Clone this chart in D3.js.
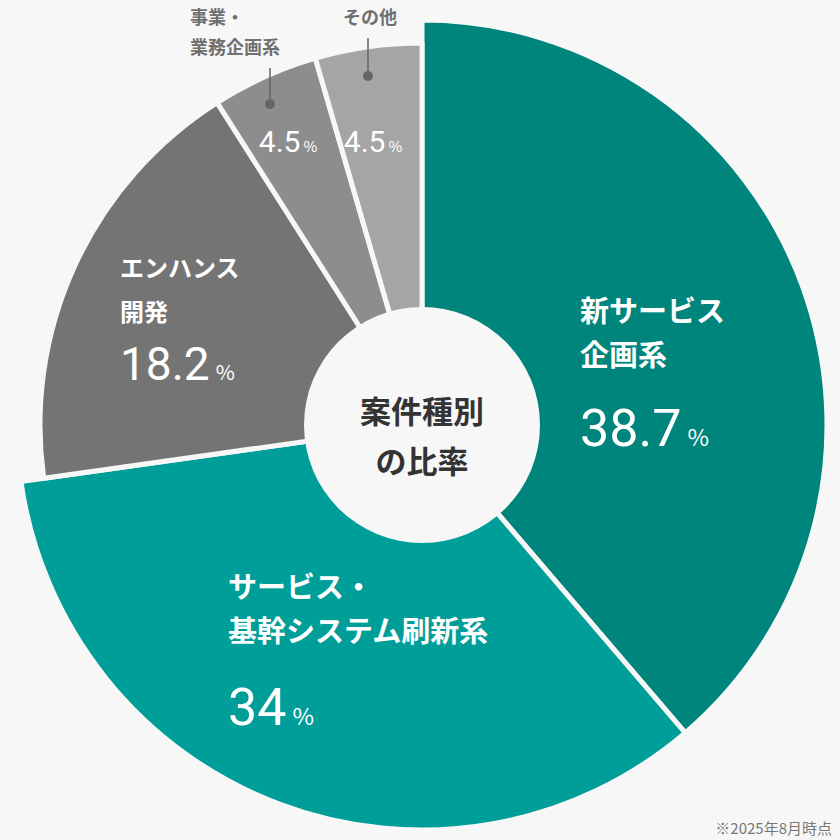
<!DOCTYPE html><html><head><meta charset="utf-8"><script src="https://cdn.jsdelivr.net/npm/d3@7"></script>
<style>body{margin:0;background:#f7f7f7}text{font-family:"Noto Sans CJK JP",sans-serif}</style></head><body><svg id="c" width="840" height="840"></svg><script>
const categories=["新サービス企画系","サービス・基幹システム刷新系","エンハンス開発","事業・業務企画系","その他"];
const values=[38.7,34,18.2,4.5,4.5];
const valueLabels=["38.7","34","18.2","4.5","4.5"];
const colors=["#00857d","#009e98","#747474","#8d8d8d","#a5a5a5"];
const radii=[405,405,382,382,382];
const svg=d3.select("#c");
svg.append("rect").attr("width",840).attr("height",840).attr("fill","#f7f7f7");
const cx=422,cy=425;
const g=svg.append("g").attr("transform",`translate(${cx},${cy})`);
const arcs=d3.pie().sort(null)(values);
g.selectAll("path").data(arcs).join("path")
 .attr("d",(d,i)=>d3.arc().innerRadius(0).outerRadius(radii[i])(d))
 .attr("fill",(d,i)=>colors[i]).attr("stroke","#f7f7f7").attr("stroke-width",5).attr("stroke-linejoin","round");
g.append("circle").attr("r",118).attr("fill","#f7f7f7");
g.append("text").attr("text-anchor","middle").attr("font-size",31).attr("font-weight",700).attr("fill","#333")
 .selectAll("tspan").data(["案件種別","の比率"]).join("tspan").attr("x",0).attr("y",(d,i)=>i?48:-2).text(d=>d);
function lab(x,y,lines,val,fs,vs,vy){
 const t=svg.append("g");
 lines.forEach((l,i)=>t.append("text").attr("x",x).attr("y",y+i*44).attr("font-size",fs).attr("font-weight",700).attr("fill","#fff").text(l));
 const v=t.append("text").attr("x",x).attr("y",vy).attr("fill","#fff");
 v.append("tspan").attr("font-size",vs).attr("font-family","Roboto,sans-serif").text(val);
 v.append("tspan").attr("font-size",vs*0.45).attr("dx",6).text("%");
}
lab(580,322,["新サービス","企画系"],valueLabels[0],29,52,446);
lab(228,598,["サービス・","基幹システム刷新系"],valueLabels[1],29,52,725);
lab(120,277,["エンハンス","開発"],valueLabels[2],24,46,380);
function small(x,val){
 const v=svg.append("text").attr("x",x).attr("y",152).attr("fill","#fff").attr("text-anchor","middle");
 v.append("tspan").attr("font-size",30).attr("font-family","Roboto,sans-serif").text(val);
 v.append("tspan").attr("font-size",15).attr("dx",3).text("%");
}
small(288,valueLabels[3]);small(373,valueLabels[4]);
[[270,68,104],[368,38,76]].forEach(([x,y1,y2])=>{
 svg.append("line").attr("x1",x).attr("x2",x).attr("y1",y1).attr("y2",y2).attr("stroke","#666").attr("stroke-width",1.5);
 svg.append("circle").attr("cx",x).attr("cy",y2).attr("r",5).attr("fill","#666");
});
const tl=svg.append("g").attr("font-size",18).attr("font-weight",700).attr("fill","#707070");
tl.append("text").attr("x",190).attr("y",24).text("事業・");
tl.append("text").attr("x",190).attr("y",54).text("業務企画系");
tl.append("text").attr("x",370).attr("y",24).attr("text-anchor","middle").text("その他");
svg.append("text").attr("x",832).attr("y",834).attr("text-anchor","end").attr("font-size",15).attr("fill","#777").text("※2025年8月時点");
</script></body></html>
